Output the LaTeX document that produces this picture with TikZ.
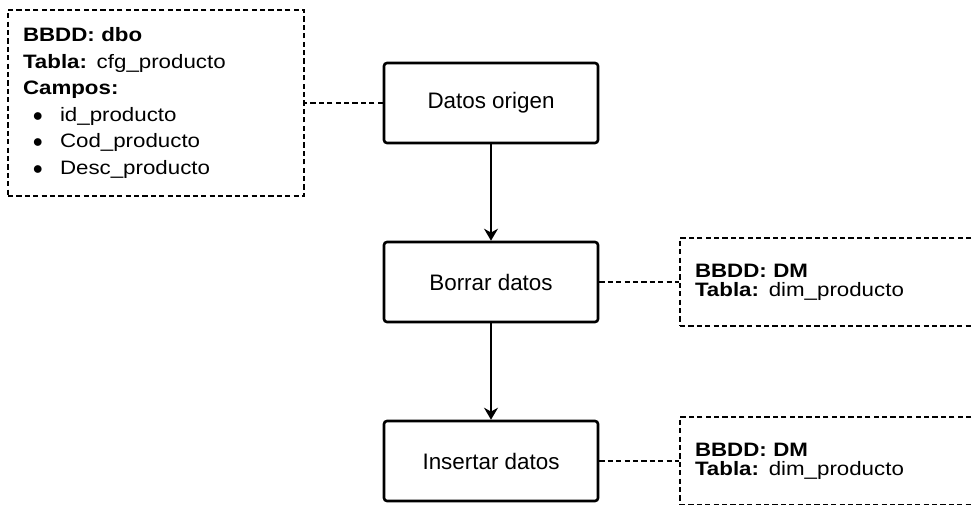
\documentclass[tikz,border=0pt]{standalone}
\usepackage{fontspec}
\setmainfont{Liberation Sans}
\newfontfamily\notefont[FakeStretch=1.15]{Liberation Sans}
\usepackage{tikz}
\usetikzlibrary{shapes.geometric,arrows.meta,positioning,calc}
\tikzstyle{process} = [rectangle, rounded corners = 1.5pt, minimum width = 107pt, minimum height = 40pt, text centered, line width = 1.3pt, draw = black, font = \fontsize{11.2}{13}\selectfont]
\tikzstyle{note} = [rectangle, dash pattern = on 2.6pt off 1.6pt, line width = 0.7pt, draw = black, align = left, inner xsep = 7.5pt, inner ysep = 0pt, font = \notefont\fontsize{9.7}{13.25}\selectfont]
\tikzstyle{smallnote} = [note, text width = 145pt, minimum height = 44pt, font = \notefont\fontsize{9.7}{9.6}\selectfont]
\tikzstyle{arrow} = [line width = 0.8pt, -{Stealth[length = 6pt, width = 7pt]}]
\tikzstyle{link} = [line width = 0.7pt, dash pattern = on 2.6pt off 1.6pt]
\newcommand{\campo}[1]{\makebox[18.5pt][l]{\hspace{5pt}$\bullet$}#1}

\begin{document}
\begin{tikzpicture}[x = 1pt, y = 1pt, node distance = 89.5pt]
    \useasboundingbox (0,0) rectangle (486.5,252);
    \clip (0,0) rectangle (486.5,252);

    \node (datos) [process] at (245.5,200.5) {Datos origen};
    \node (borrar) [process, below of=datos] {Borrar datos};
    \node (insertar) [process, below of=borrar] {Insertar datos};

    \node (origen-info) [note, left of=datos, xshift=-78pt, text width = 133pt, minimum height = 93pt] {\textbf{BBDD: dbo}\\ \textbf{Tabla:} cfg\_producto\\ \textbf{Campos:}\\ \campo{id\_producto}\\ \campo{Cod\_producto}\\ \campo{Desc\_producto}};
    \node (borrar-info) [smallnote, right of=borrar, xshift=85pt] {\textbf{BBDD: DM}\\ \textbf{Tabla:} dim\_producto};
    \node (insertar-info) [smallnote, right of=insertar, xshift=85pt] {\textbf{BBDD: DM}\\ \textbf{Tabla:} dim\_producto};

    \draw [arrow] (datos) -- (borrar);
    \draw [arrow] (borrar) -- (insertar);

    \draw [link] (datos) -- (origen-info);
    \draw [link] (borrar) -- (borrar-info);
    \draw [link] (insertar) -- (insertar-info);
\end{tikzpicture}
\end{document}
